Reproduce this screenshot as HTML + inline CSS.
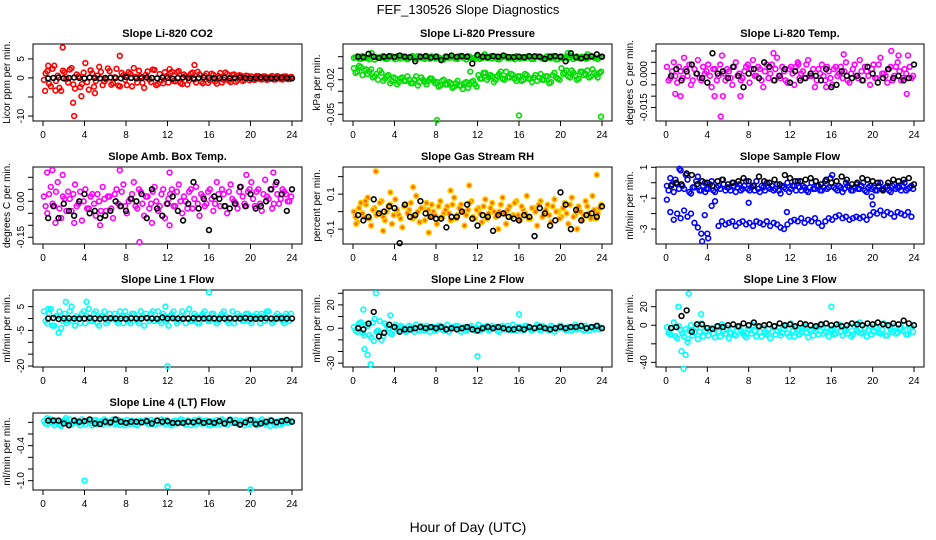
<!DOCTYPE html>
<html><head><meta charset="utf-8"><style>
html,body{margin:0;padding:0;background:#fff;}
svg{display:block;font-family:"Liberation Sans",Arial,sans-serif;}
</style></head><body>
<svg id="chart" width="936" height="540" viewBox="0 0 936 540" xmlns="http://www.w3.org/2000/svg">
<rect x="0" y="0" width="936" height="540" fill="#fff"/>
<text x="468" y="14" text-anchor="middle" font-size="13">FEF_130526  Slope Diagnostics</text>
<text x="468" y="532" text-anchor="middle" font-size="14">Hour of Day (UTC)</text>
</svg>
<script>
const hourTicks = [0,4,8,12,16,20,24];
// Panel 1 CO2
const co2Red = [-0.5,1.8,-2.2,3.2,0.6,-3.4,1.5,-1.2,2.6,-2.8,0.4,-1.6,3.9,-3.1,1.2,-0.8,2.9,-1.9,-0.4,1.8,-1.4,2.4,-2.2,0.7,-1.9,1.1,2.6,-1.2,0.4,-2.6,1.7,-1.1,2.1,-1.6,-0.6,1.5,-1.2,1.6,-0.9,1.8,-1.6,0.5,-0.6,1.4,-1.2,0.9,-1.4,1.1,-0.6,0.8,-1.5,1.3,-0.5,1.0,-1.1,0.9,-0.6,0.6,-0.5,0.5,0.4,-0.5,0.5,-0.4,0.4,-0.3,0.5,-0.4,0.3,-0.4,0.4,-0.3];
const co2Red2 = [1.2,-1.5,2.4,-0.8,-2.6,1.9,-0.3,2.2,-1.7,0.9,-2.4,1.4,-1.1,2.0,-2.3,0.6,1.6,-0.9,2.5,-1.8,0.2,-2.0,1.3,-0.5,1.5,-2.2,0.3,1.9,-1.3,0.8,-0.4,2.2,-1.9,1.0,-1.4,0.5,1.2,-0.8,1.5,-1.3,0.9,-1.7,1.1,-0.4,1.6,-1.0,0.6,-1.3,1.1,-0.9,0.5,-1.2,1.4,-0.7,0.8,-1.0,0.7,-0.8,0.6,-0.6,-0.4,0.5,-0.3,0.4,-0.5,0.3,-0.4,0.5,-0.3,0.4,-0.3,0.3];
const co2Out = [[0.5,3.2],[1.2,-3.3],[1.9,8],[2.9,-6.5],[3,-10],[3.7,-4.8],[5,-4],[7.4,5.8],[14.6,3.4],[0.2,-3.4],[12.2,2.3]];
const co2Black = [-0.1,0,0.1,-0.1,0,0.1,0,-0.1,0.1,0,-0.1,0,0.1,0,-0.1,0.2,0,-0.1,0,0.1,0,-0.1,0.1,0,-0.2,0,0.1,0,-0.1,0,0.1,0,-0.1,0,0.1,-0.1,0,0.1,0,-0.1,0,0.1,0,-0.1,0,0.1,0,-0.1];
// Panel 2 pressure (x1e-3)
const presUp = [-1,0.3,-2,-0.5,-1.5,0.5,-2.5,-0.8,0,-1.7,-1.2,0.4,-2.2,-0.6,0.2,-1.4,-0.9,0.6,-2,-0.3,-1.1,0.2,-1.8,-0.7,0.3,-1.3,-2.4,-0.4,0.5,-1,-1.9,0,-0.6,0.4,-1.5,-2.1,-0.2,-1.2,0.3,-0.8,-1.6,0.1,-2.3,-0.5,0.2,-1.4,-0.9,0.5,-1.7,-0.3,0,-1.1,-2,0.3,-0.7,-1.5,0.4,-1.2,-0.2,-2.2,0.1,-0.9,-1.6,0.6,-0.4,-1.3,0,-1.8,-0.6,0.2,-1,-0.5];
const presUp2 = [-0.4,-1.8,0.6,-1.1,-2.3,0.1,-0.6,-1.4,0.5,-2,-0.2,-1,0.4,-1.6,-0.3,-2.2,0,-1.2,0.5,-0.9,-1.9,-0.1,0.3,-1.5,-0.7,-2.1,0.2,-1,-0.4,-1.7,0.6,-0.8,-2.4,0,-1.3,0.3,-1.9,-0.5,-1.1,0.4,-0.2,-2,-0.9,0.5,-1.5,-0.3,-2.2,0.1,-0.8,-1.4,0.4,-2.1,-0.6,0,-1.7,-0.2,-1,0.5,-2.3,-0.7,-1.3,0.2,-0.5,-2,0.3,-1.1,-0.4,-1.6,0.6,-0.9,-2.1,0];
const presLow = [-10,-13,-9,-12,-15,-11,-17,-20,-14,-19,-16,-21,-19,-22,-18,-21,-20,-23,-17,-22,-20,-24,-19,-21,-22,-25,-20,-24,-23,-26,-21,-25,-23,-27,-22,-24,-16,-19,-14,-18,-17,-20,-15,-19,-13,-18,-16,-21,-17,-20,-16,-19,-18,-21,-15,-20,-17,-22,-14,-19,-10,-14,-17,-12,-16,-19,-13,-15,-18,-11,-16,-14];
const presLow2 = [-14,-8,-16,-11,-13,-18,-15,-12,-21,-17,-23,-18,-24,-19,-21,-17,-23,-20,-25,-18,-22,-21,-19,-23,-26,-21,-24,-22,-27,-23,-25,-28,-22,-24,-21,-26,-19,-14,-20,-16,-22,-17,-13,-20,-18,-15,-19,-17,-21,-15,-19,-22,-16,-18,-20,-17,-23,-16,-18,-20,-15,-12,-18,-14,-20,-13,-16,-12,-17,-14,-18,-13];
const presOut = [[8.1,-55],[16,-51],[23.9,-52],[1.8,3],[20.7,3],[12.7,2],[22.6,2],[11.3,-13]];
const presBlack = [0,-0.5,2.5,0,-1,0,0.5,-0.3,1,0,-0.5,-4,0,0.5,-0.8,0,-3,0,1,-0.2,0.5,0,-6,1.5,0,-0.5,0.5,0,1,-0.3,-0.4,0,-0.5,0.5,0.3,0,-2,0,0.5,0,-4,3,-0.5,-1.5,0,0.2,2,0];
// Panel 3 Li-820 temp (x1e-3)
const tempMag = [3,-2,5,-4,1,7,-1,-5,2,6,-3,0,4,-6,2,-1,8,-3,1,-5,5,0,-2,3,-4,6,-1,2,-6,4,0,-3,7,-2,1,-4,3,-5,5,0,-2,6,-1,-6,2,4,-3,1,-5,3,0,-2,5,-4,2,-1,6,-3,1,-5,4,-2,7,0,-4,3,-1,5,-3,2,8,-2];
const tempMag2 = [-3,1,-1,3,-2,2,4,-3,0,-2,3,1,-1,2,-3,4,0,2,-2,3,-1,-3,1,4,2,-1,3,-3,1,-2,4,2,-1,3,-3,2,0,3,-2,1,4,-1,2,-3,0,-1,3,-2,2,-1,3,1,-3,0,4,-2,1,3,-1,2,-2,4,0,-1,2,-3,3,1,-2,0,3,-1];
const tempOut = [[5.3,-19],[0.9,-9],[1.4,-10],[4.7,-10],[21.8,10],[22.5,8],[17.2,8.5],[12.8,4],[10.4,9],[5.5,-10],[7.2,-10],[15.5,-6],[23.3,-9]];
const tempBlack = [-1,2,-3,1,4,0,-2,-4,9,0,1,-2,3,-1,-6,0,2,-2,5,3,-3,-1,2,-4,1,-3,-2,0,-1,-3,2,-6,-5,1,-1,-2,-1,-3,3,0,-4,-2,2,-2,-1,-3,-2,4];
// Panel 4 amb box temp (x1e-2)
const ambMag = [2,-5,6,-2,8,-7,1,4,-4,7,-1,-8,5,-3,3,-6,0,6,-4,2,-7,5,-2,7,-5,1,8,-3,4,-6,2,-1,6,-4,3,-7,1,5,-2,7,-5,0,4,-3,6,-6,2,-1,5,-4,8,-2,3,-5,7,0,-3,6,-1,4,8,-2,5,-4,9,1,-3,7,-1,5,3,0];
const ambMag2 = [-2,3,-1,4,-3,2,-4,1,3,-2,4,0,-3,2,-1,3,-4,1,2,-3,3,-1,4,-2,0,3,-2,5,-1,2,-3,4,0,-2,5,-1,3,-2,4,0,2,-3,5,1,-1,3,-2,4,1,-1,3,5,-2,4,1,-1,4,2,-2,5,1,4,-1,3,2,5,-1,3,1,4,0,2];
const ambOut = [[0.4,12],[0.9,13],[1.9,11],[7.4,13],[9.3,-17],[12.2,12],[3,-9],[5.5,-10],[10.5,-9],[12.2,-10],[19.6,11],[22.2,12],[1.2,-9]];
const ambBlack = [-7,-2,-7,-1,-4,-6,0,3,-5,-4,-7,-6,-4,0,-2,-4,1,0,3,-7,5,-3,-6,-1,2,-4,-8,-1,8,-3,1,-12,2,1,-2,-3,-1,6,-2,3,-3,-2,0,5,8,3,-4,5];
// Panel 5 gas stream RH (x1e-2)
const rhY = [0,-6,5,-3,8,-8,2,-1,6,-5,3,-7,7,-2,-9,4,1,-4,9,-6,2,5,-3,0,-7,6,-1,3,-5,8,-2,4,-8,1,6,-4,2,-6,7,-1,5,-3,0,8,-7,3,-2,6,-5,1,9,-4,2,-8,6,-1,4,-6,7,0,-3,5,-7,8,-2,3,-5,6,-1,9,-4,2];
const rhY2 = [-3,2,-1,4,-4,1,-2,5,-3,0,4,-2,1,-4,3,-1,5,-3,0,2,-5,1,4,-2,3,-3,1,-1,4,-4,2,0,-2,5,-3,1,-1,3,-4,2,0,-2,4,-1,1,-3,5,-2,3,-1,-4,2,0,4,-3,1,-2,3,0,-4,2,-1,4,-3,1,0,-2,3,-4,1,-1,4];
const rhOut = [[2.2,23],[5.8,14],[1.2,6],[2.9,-11],[7.3,-12],[11.2,15],[23.5,21],[21.6,-10],[3.6,11],[0.3,-7],[9.4,12],[14,-10]];
const rhBlack = [-2,-5,-3,7,-1,0,3,2,-18,4,-3,-2,6,-1,-3,-4,-4,-9,-3,-3,0,4,-4,-8,-2,-3,-11,-2,-1,-3,-4,-5,-2,-3,-14,2,-1,-8,-5,11,4,-10,1,-5,-2,-1,-3,3];
// Panel 6 sample flow
const flowUp = [-0.2,0.3,-0.6,-0.1,0.8,-0.4,0.2,-0.7,-0.3,0.4,-0.5,0,-0.4,0.1,-0.6,-0.2,0.2,-0.5,-0.3,0,-0.6,-0.1,-0.4,0.1,-0.5,-0.2,0.1,-0.6,-0.3,0,-0.4,-0.5,-0.1,-0.7,-0.3,0,-0.4,-0.2,0.1,-0.5,-0.3,-0.6,0,-0.4,-0.2,-0.5,0.1,-0.3,0.5,-0.4,-0.2,-0.6,0,-0.3,-0.5,-0.1,-0.4,0,-0.6,-0.2,-0.3,-0.5,0,-0.4,-0.2,-0.6,-0.1,-0.3,-0.5,0,-0.4,-0.2];
const flowUp2 = [-0.5,-0.1,0.2,-0.4,-0.2,0.5,-0.6,-0.3,0.1,-0.5,-0.2,-0.4,-0.1,-0.5,-0.3,-0.4,-0.1,-0.3,-0.5,-0.2,-0.3,-0.5,-0.2,-0.4,-0.3,-0.5,-0.4,-0.2,-0.5,-0.3,-0.2,-0.4,-0.5,-0.2,-0.4,-0.6,-0.2,-0.5,-0.3,-0.2,-0.5,-0.3,-0.4,-0.2,-0.5,-0.3,-0.4,0.3,-0.3,-0.5,-0.3,-0.4,-0.2,-0.5,-0.3,-0.4,-0.2,-0.5,-0.3,-0.4,-0.5,-0.2,-0.4,-0.3,-0.5,-0.2,-0.4,-0.3,-0.2,-0.5,-0.3,-0.4];
const flowLow = [-1.1,-1.9,-2.4,-2.0,-2.3,-1.8,-2.2,-2.0,-2.6,-2.9,-3.3,-2.1,-3.6,-1.5,-1.2,-2.8,-2.5,-2.7,-2.6,-2.5,-2.8,-2.6,-2.5,-2.7,-2.6,-2.8,-2.5,-2.6,-2.7,-2.5,-2.8,-2.6,-2.7,-2.9,-3.0,-2.7,-2.5,-2.4,-2.5,-2.3,-2.6,-2.4,-2.5,-2.3,-2.6,-2.8,-2.5,-2.3,-2.4,-2.2,-2.1,-2.3,-2.2,-2.4,-2.3,-2.2,-2.3,-2.2,-2.4,-2.1,-1.9,-2.0,-1.8,-2.1,-1.9,-2.0,-2.2,-1.9,-2.0,-2.1,-1.9,-2.2];
const flowOut = [[3.5,-3.8],[4,-3.3],[8,-1.3],[11.7,-1.9],[19.9,-0.9],[20,-1.4],[1.3,0.9],[3.8,-0.6]];
const flowBlack = [-0.2,0,-0.1,0.6,0.5,-0.1,0.1,0,-0.2,0.1,0.2,-0.1,0,0.1,0.3,0.1,-0.2,0.4,0.1,0,0.2,-0.1,0.5,0.3,0.1,0.1,0.2,0.3,0.1,-0.1,0.2,0,0.1,0.4,0.2,-0.1,0,0.3,0.2,0.1,0,-0.5,0,0.2,0.1,0.2,0.3,-0.1];
// Panel 7 line 1
const l1 = [3,-2,4,-3,1,-4,2,-1,5,-3,0,2,-2,4,-1,3,-3,1,-2,2,0,-1,3,-2,1,-2,2,-1,3,-3,0,2,-1,3,-2,1,-3,2,0,-1,3,-2,4,-1,1,-2,2,0,-1,2,-2,1,3,-1,0,-2,2,1,-1,2,-2,1,0,2,-1,3,-2,1,0,-1,2,-1];
const l1b = [-1,2,-3,1,3,-1,-2,3,-1,1,-2,3,1,-1,2,-2,1,3,-1,0,2,-2,1,3,-1,2,0,-2,1,2,-1,3,0,-1,2,-1,1,3,-2,1,0,2,-1,2,-2,1,3,-1,2,0,-1,2,1,-2,3,0,1,-1,2,-1,1,2,-2,1,3,0,-1,2,1,-2,1,2];
const l1Out = [[1.5,-6],[12,-20],[16,11],[4.2,7],[2.2,7],[0.5,4],[11.8,5]];
const l1Black = [0,0.2,-0.2,0,0.1,0,-0.1,0,0.2,0,-0.1,0,0.1,0,0,-0.1,0.1,0,0,0.2,0,-0.1,0.4,0,0.1,0,-0.1,0,0.1,0,0,0.1,0,-0.1,0,0.1,0,0,0.2,0,-0.1,0,0.1,0,0,0.1,0,0];
// Panel 8 line 2
const l2 = [1,-3,5,-6,2,-8,8,-2,-10,4,0,-5,3,-2,1,-3,2,-1,3,-2,0,2,-3,1,-1,2,-2,3,-1,0,2,-3,1,-1,2,-2,3,-1,0,-2,2,1,-3,2,-1,0,3,-2,1,-2,2,-1,0,3,-2,1,-1,2,-3,0,2,-1,1,-2,3,0,-1,2,-2,1,0,-1];
const l2b = [-2,4,-4,3,-6,5,-3,6,-7,2,-4,1,-1,2,0,-2,1,-3,-1,2,-2,0,1,-2,2,-1,0,-3,1,2,-1,0,-2,1,-1,0,-2,1,2,-1,0,-2,1,-1,2,-2,0,1,-1,2,0,-2,1,-1,2,0,-2,1,-1,2,0,-2,1,0,-1,2,-2,0,1,-1,2,0];
const l2Out = [[1.4,-23],[1.7,-31],[2.2,30],[1.1,-18],[2,-11],[12,-24],[16,12],[3.6,11],[1,16]];
const l2Black = [0,-1,4,14,-7,-4,3,1,-3,-1,-1,0,1,0,1,0,1,-1,0,-1,0,1,-1,-2,0,1,0,1,0,-1,-1,0,-1,1,0,1,0,-1,0,1,0,1,1,2,0,1,2,0];
// Panel 9 line 3
const l3 = [-2,-10,3,-14,-5,-12,-18,0,-8,-15,2,-6,-11,-3,-13,-7,1,-9,-14,-4,-11,-2,-8,-13,-5,0,-12,-7,-3,-10,-14,-1,-6,-11,-4,-9,2,-12,-5,-8,-1,-13,-6,-3,-10,0,-7,-12,-4,-9,1,-11,-6,-2,-10,-5,3,-8,-12,-1,-7,-3,-9,2,-11,-5,-1,-8,-4,0,-10,-2];
const l3b = [-8,-3,-12,-1,-9,-4,-6,-11,-2,-7,-12,-3,-5,-9,-1,-12,-6,-3,-8,-10,-2,-6,-11,-4,-9,-6,-2,-12,-8,-4,-7,-10,-3,-8,-1,-12,-6,-3,-10,-2,-8,-5,-11,-1,-6,-9,-3,-5,-10,-2,-7,-4,-9,-12,-1,-7,-9,-3,-5,-10,-2,-8,-5,-11,-1,-7,-9,-3,-6,-10,-4,-7];
const l3Out = [[1.7,-47],[2.2,34],[1.5,-28],[1.9,-32],[1.2,20],[16,20],[3.4,12],[2.1,-15]];
const l3Black = [-3,-2,10,16,-7,1,1,-3,-4,-1,-2,0,1,-1,2,0,3,-1,0,1,-1,2,0,1,-1,2,1,0,-1,1,2,0,1,-1,0,2,1,0,2,1,3,1,0,2,1,5,2,0];
// Panel 10 line 4
const l4 = [0.02,-0.03,0.05,-0.05,0.01,-0.06,0.03,0,-0.04,0.04,-0.02,0.05,-0.03,0.02,-0.05,0.04,0,-0.04,0.03,-0.02,0.05,-0.01,-0.04,0.02,0.04,-0.03,0.01,-0.05,0.03,0,-0.02,0.04,-0.04,0.02,0.05,-0.03,0.01,-0.05,0.03,-0.01,0.04,-0.04,0.02,0,-0.03,0.05,-0.02,0.03,-0.05,0.01,0.04,-0.03,0.02,-0.04,0.05,0,-0.02,0.03,-0.05,0.04,-0.01,0.02,-0.04,0.05,-0.03,0.01,0.03,-0.05,0.02,-0.02,0.04,0];
const l4b = [-0.02,0.04,-0.01,0.03,-0.04,0.02,-0.02,0.05,-0.01,0.02,-0.05,0.01,0.03,-0.02,0.04,-0.03,0.02,0.05,-0.02,0.01,-0.03,0.04,0.01,-0.05,-0.01,0.03,-0.04,0.02,0,0.04,-0.03,0.01,0.03,-0.02,0,0.04,-0.03,0.02,-0.02,0.05,-0.01,0.03,-0.05,0.04,0.01,-0.02,0.03,-0.04,0.02,-0.03,0.01,0.05,-0.02,0.03,-0.01,0.04,-0.04,0.01,0.02,-0.03,0.04,-0.05,0.02,0,-0.02,0.04,-0.03,0.01,-0.04,0.03,-0.01,0.02];
const l4Out = [[4,-1.0],[12,-1.1],[20,-1.15],[0.4,0.07],[2.2,0.07],[21.9,-0.06]];
const l4Black = [0.03,0.03,0.03,-0.02,-0.05,0.03,0.01,0.02,0.05,-0.02,-0.03,0.01,0,0.05,0.01,-0.01,0.01,0.01,0,0.02,-0.02,0.03,0.01,0.02,-0.01,-0.01,-0.01,0.01,0,0.02,-0.01,0.01,-0.01,0.02,-0.02,0.04,-0.01,-0.04,0,0.04,-0.03,-0.02,0.01,0.03,0,0.02,0.04,0.01];

const svg = document.getElementById('chart');
const NS = 'http://www.w3.org/2000/svg';
const boxL = [33,343,656], boxR = [302,612,924], rowTop = [44,167,290,413], BH = 77;
function mk(tag, attrs, parent){ const e=document.createElementNS(NS,tag); for(const k in attrs) e.setAttribute(k,attrs[k]); (parent||svg).appendChild(e); return e; }

const panels = [
 {name:'co2',title:'Slope Li-820 CO2',yt:'Licor ppm per min.',col:0,row:0,lo:-11.3,hi:8.9,ticks:[5,0,-5,-10],labels:['5','0','','-10'],series:[co2Red,co2Red2],out:co2Out,black:co2Black,color:'#ff0000'},
 {name:'pressure',title:'Slope Li-820 Pressure',yt:'kPa per min.',col:1,row:0,lo:-55.8,hi:11,ticks:[0,-10,-20,-30,-40,-50],labels:['','','-0.02','','','-0.05'],series:[presUp,presUp2,presLow,presLow2],out:presOut,black:presBlack,color:'#00dd00'},
 {name:'licor-temp',title:'Slope Li-820 Temp.',yt:'degrees C per min.',col:2,row:0,lo:-21,hi:13.1,ticks:[10,5,0,-5,-10,-15],labels:['','','0.000','','','-0.015'],series:[tempMag,tempMag2],out:tempOut,black:tempBlack,color:'#ff00ff'},
 {name:'amb-box-temp',title:'Slope Amb. Box Temp.',yt:'degrees C per min.',col:0,row:1,lo:-17.8,hi:14.3,ticks:[10,5,0,-5,-10,-15],labels:['','','0.00','','','-0.15'],series:[ambMag,ambMag2],out:ambOut,black:ambBlack,color:'#ff00ff'},
 {name:'gas-stream-rh',title:'Slope Gas Stream RH',yt:'percent per min.',col:1,row:1,lo:-18.5,hi:25.5,ticks:[20,10,0,-10],labels:['','0.1','','-0.1'],series:[rhY,rhY2],out:rhOut,black:rhBlack,color:'#ffcc00',fill:'#ff6600'},
 {name:'sample-flow',title:'Slope Sample Flow',yt:'ml/min per min.',col:2,row:1,lo:-3.97,hi:1.02,ticks:[1,0,-1,-2,-3],labels:['1','','-1','','-3'],series:[flowUp,flowUp2,flowLow],out:flowOut,black:flowBlack,color:'#0000ff'},
 {name:'line1-flow',title:'Slope Line 1 Flow',yt:'ml/min per min.',col:0,row:2,lo:-20.4,hi:12,ticks:[5,0,-5,-10,-15,-20],labels:['5','','-5','','','-20'],series:[l1,l1b],out:l1Out,black:l1Black,color:'#00ffff'},
 {name:'line2-flow',title:'Slope Line 2 Flow',yt:'ml/min per min.',col:1,row:2,lo:-33.3,hi:32.8,ticks:[30,20,10,0,-10,-20,-30],labels:['','20','','0','','','-30'],series:[l2,l2b],out:l2Out,black:l2Black,color:'#00ffff'},
 {name:'line3-flow',title:'Slope Line 3 Flow',yt:'ml/min per min.',col:2,row:2,lo:-45,hi:38,ticks:[20,0,-20,-40],labels:['20','0','','-40'],series:[l3,l3b],out:l3Out,black:l3Black,color:'#00ffff'},
 {name:'line4-flow',title:'Slope Line 4 (LT) Flow',yt:'ml/min per min.',col:0,row:3,lo:-1.16,hi:0.16,ticks:[0,-0.2,-0.4,-0.6,-0.8,-1.0],labels:['','','-0.4','','','-1.0'],series:[l4,l4b],out:l4Out,black:l4Black,color:'#00ffff'}
];

panels.forEach(p=>{
  const L=boxL[p.col], R=boxR[p.col], T=rowTop[p.row], B=T+BH;
  const x0=L+10, x1=R-10;
  const xs = h => x0+(x1-x0)*h/24;
  const ys = v => B-(v-p.lo)/(p.hi-p.lo)*BH;
  const g = mk('g',{});
  
  
  const t = mk('text',{x:(L+R)/2,y:T-7,'text-anchor':'middle','font-size':11,'font-weight':'bold'},g);
  t.textContent=p.title;
  
  
  const yt = mk('text',{x:0,y:0,'text-anchor':'middle','font-size':10,transform:`translate(${L-23},${(T+B)/2}) rotate(-90)`},g);
  yt.textContent=p.yt;
  
  
  hourTicks.forEach(h=>{
    mk('line',{x1:xs(h),x2:xs(h),y1:B,y2:B+5,stroke:'#000','stroke-width':1},g);
    const lb=mk('text',{x:xs(h),y:B+17,'text-anchor':'middle','font-size':10},g);
    lb.textContent=h;
    
    
  });
  mk('line',{x1:xs(0),x2:xs(24),y1:B,y2:B,stroke:'#000'},g);
  p.ticks.forEach((v,i)=>{
    mk('line',{x1:L,x2:L-5,y1:ys(v),y2:ys(v),stroke:'#000'},g);
    if(p.labels[i]){
      const lb=mk('text',{x:0,y:0,'text-anchor':'middle','font-size':10,transform:`translate(${L-9},${ys(v)}) rotate(-90)`},g);
      lb.textContent=p.labels[i];
      
      
    }
  });
  mk('line',{x1:L,x2:L,y1:ys(p.ticks[0]),y2:ys(p.ticks[p.ticks.length-1]),stroke:'#000'},g);
  const box = mk('rect',{x:L,y:T,width:R-L,height:BH,fill:'none',stroke:'#000','stroke-width':1},g);
  
  
  const fill = p.fill||'none';
  p.series.forEach((arr,si)=>{
    arr.forEach((v,i)=>{
      const off = (si%2)*0.5;
      const c=mk('circle',{cx:xs((i+0.25+off)*24/arr.length),cy:ys(v),r:2.4,fill:fill,stroke:p.color,'stroke-width':1.6},g);
      
      
    });
  });
  p.out.forEach(o=>{
    const c=mk('circle',{cx:xs(o[0]),cy:ys(o[1]),r:2.4,fill:fill,stroke:p.color,'stroke-width':1.6},g);
    
    
  });
  p.black.forEach((v,i)=>{
    const c=mk('circle',{cx:xs((i+1)*0.5),cy:ys(v),r:2.4,fill:'none',stroke:'#000','stroke-width':1.6},g);
    
    
  });
});
</script>
</body></html>
